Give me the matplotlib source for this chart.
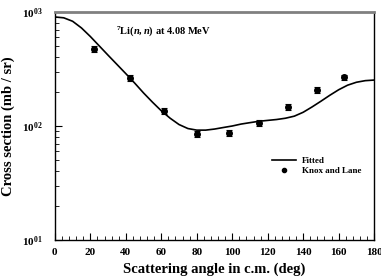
import matplotlib
matplotlib.use("Agg")
import matplotlib.pyplot as plt
import numpy as np
from matplotlib.ticker import FixedLocator, MultipleLocator, LogLocator, NullFormatter, FixedFormatter
from matplotlib.lines import Line2D

plt.rcParams['font.family'] = ['Liberation Serif', 'DejaVu Serif']
plt.rcParams['font.weight'] = 'bold'
plt.rcParams['mathtext.fontset'] = 'custom'
plt.rcParams['mathtext.rm'] = 'Liberation Serif:bold'
plt.rcParams['mathtext.bf'] = 'Liberation Serif:bold'
plt.rcParams['mathtext.it'] = 'Liberation Serif:bold:italic'

# Fitted curve
fit_angle = [0, 5, 10, 15, 20, 25, 30, 35, 40, 45, 50, 55, 60, 65, 70, 75, 80, 85, 90,
             95, 100, 105, 110, 115, 120, 125, 130, 135, 140, 145, 150, 155, 160, 165,
             170, 175, 180]
fit_value = [905, 890, 830, 725, 610, 505, 418, 347, 288, 238, 195, 162, 136, 117, 103,
             95, 92, 92, 94, 97, 100, 104, 107, 110, 112, 114, 117, 122, 132, 147, 165,
             186, 208, 228, 242, 250, 253]

# Knox and Lane data
exp_angle = [22.2, 42.3, 61.5, 80.0, 98.2, 115.1, 131.3, 147.6, 163.2]
exp_value = [471, 265, 136, 85, 87, 107, 146, 208, 267]
exp_err = [v * 0.06 for v in exp_value]

ytick_vals = [10, 100, 1000]
ytick_labels = [r'$10^{01}$', r'$10^{02}$', r'$10^{03}$']

fig = plt.figure(figsize=(3.81, 2.80), dpi=100)
ax = fig.add_axes([0.144, 0.143, 0.838, 0.814])

line_fit, = ax.plot(fit_angle, fit_value, color='black', lw=1.2)
ax.errorbar(exp_angle, exp_value, yerr=exp_err, fmt='o', color='black', ms=4,
            capsize=2, elinewidth=0.8, capthick=0.8)

ax.set_yscale('log')
ax.set_xlim(0, 180)
ax.set_ylim(10, 1000)

ax.xaxis.set_major_locator(MultipleLocator(20))
ax.xaxis.set_minor_locator(MultipleLocator(4))
ax.yaxis.set_major_locator(FixedLocator(ytick_vals))
ax.yaxis.set_major_formatter(FixedFormatter(ytick_labels))
ax.yaxis.set_minor_locator(LogLocator(base=10, subs=np.arange(2, 10)))
ax.yaxis.set_minor_formatter(NullFormatter())

ax.tick_params(axis='both', which='both', direction='in', top=False, right=False)
ax.tick_params(axis='both', which='major', length=5, width=0.8, labelsize=8)
ax.tick_params(axis='both', which='minor', length=3, width=0.6)
ax.tick_params(axis='x', pad=6)
ax.tick_params(axis='y', pad=9)
for lab in ax.get_xticklabels() + ax.get_yticklabels():
    lab.set_fontweight('bold')

ax.spines['top'].set_color('#808080')
ax.spines['top'].set_linewidth(2.0)
for s in ['left', 'right', 'bottom']:
    ax.spines[s].set_linewidth(1.0)
    ax.spines[s].set_color('black')

ax.set_xlabel('Scattering angle in c.m. (deg)', fontsize=10.5, fontweight='bold', labelpad=4)
ax.set_ylabel('Cross section (mb / sr)', fontsize=10.5, fontweight='bold')
ax.yaxis.set_label_coords(-0.125, 0.5)

ax.text(0.19, 0.915, r'$^{7}$Li($\it{n,n}$) at 4.08 MeV', transform=ax.transAxes,
        fontsize=7.5, fontweight='bold', va='center', ha='left')

handles = [Line2D([], [], color='black', lw=1.2),
           Line2D([], [], color='black', marker='o', ms=3, ls='none')]
leg = ax.legend(handles, ['Fitted', 'Knox and Lane'], loc='lower right',
                bbox_to_anchor=(0.985, 0.25), frameon=False,
                handlelength=2.7, labelspacing=0.2, handletextpad=0.6,
                prop={'weight': 'bold', 'size': 6.5})

fig.savefig('out.png', dpi=100)
